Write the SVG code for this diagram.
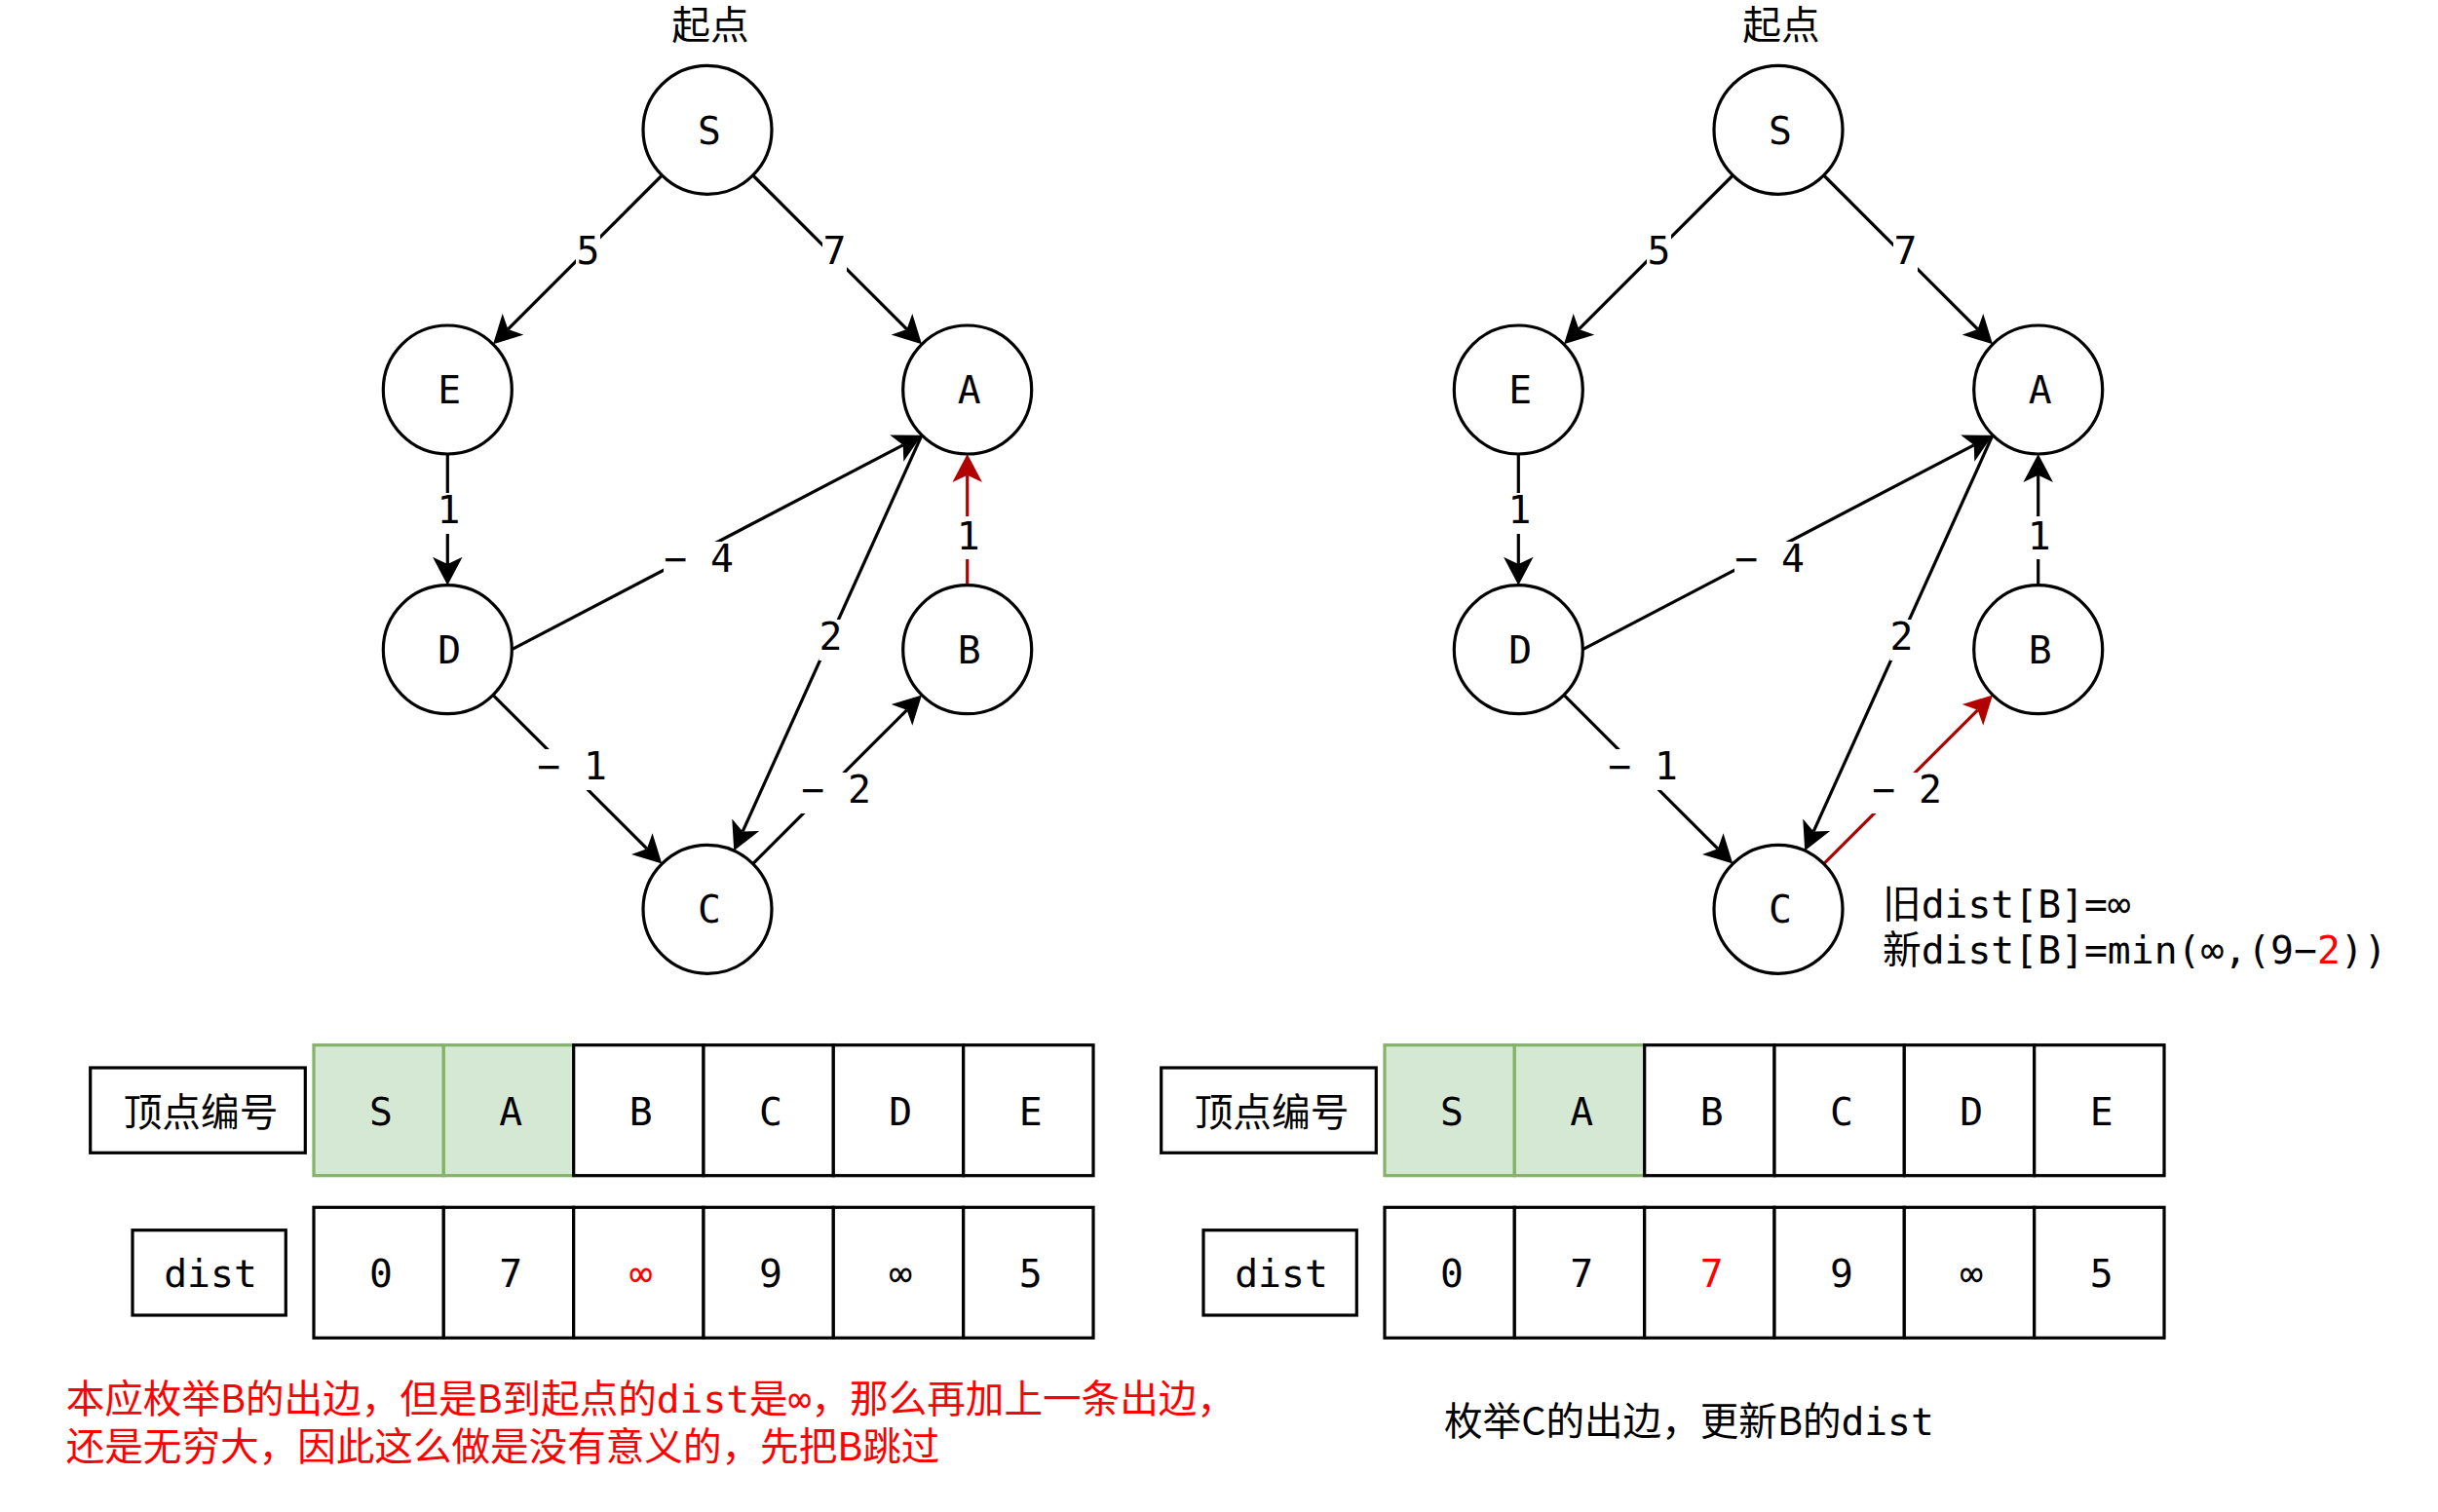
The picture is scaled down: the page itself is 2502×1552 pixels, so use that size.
<svg xmlns="http://www.w3.org/2000/svg" width="2502" height="1552" viewBox="0 0 2502 1552">
<defs>
<style>
.nd{fill:#fff;stroke:#000;stroke-width:3.2}
.t{font-family:"DejaVu Sans Mono","Noto Sans CJK SC",monospace;font-size:39.7px;text-anchor:middle;fill:#000}
.ts{font-family:"DejaVu Sans Mono","Noto Sans CJK SC",monospace;font-size:39.7px;fill:#000}
.cj{font-family:"Noto Sans CJK SC",sans-serif;font-size:39.6px;fill:#000}
.mono{font-family:"DejaVu Sans Mono",monospace}
.e{stroke:#000;stroke-width:3.2;fill:none;marker-end:url(#ab)}
.er{stroke:#b20000;stroke-width:3.2;fill:none;marker-end:url(#ar)}
.lb{fill:#fff;stroke:none}
.cw{fill:#fff;stroke:#000;stroke-width:3.2}
.cg{fill:#d5e8d4;stroke:#82b366;stroke-width:3.2}
.red{fill:#ff0000}
</style>
<marker id="ab" viewBox="0 -16 30 32" refX="7.25" refY="0" markerWidth="30" markerHeight="32" markerUnits="userSpaceOnUse" orient="auto"><path d="M0,-15.3 L29,0 L0,15.3 L7.25,0 Z" fill="#000"/></marker>
<marker id="ar" viewBox="0 -16 30 32" refX="7.25" refY="0" markerWidth="30" markerHeight="32" markerUnits="userSpaceOnUse" orient="auto"><path d="M0,-15.3 L29,0 L0,15.3 L7.25,0 Z" fill="#b20000"/></marker>
</defs>
<rect width="2502" height="1552" fill="#fff"/>

<!-- LEFT GRAPH -->
<g id="left-graph">
<text id="L-start" class="t" x="729" y="40">起点</text>
<g id="L-connectors">
<line class="e" x1="679.3" y1="180" x2="521.4" y2="337.9"/>
<line class="e" x1="772.7" y1="180" x2="930.6" y2="337.9"/>
<line class="e" x1="459.3" y1="466" x2="459.3" y2="579"/>
<line class="e" x1="525.3" y1="666.7" x2="926.7" y2="456.8"/>
<line class="e" x1="946" y1="446.7" x2="762.2" y2="853.4"/>
<line class="e" x1="506" y1="713.4" x2="663.9" y2="871.2"/>
<line class="e" x1="772.7" y1="886.6" x2="930.6" y2="728.8"/>
<line class="er" x1="992.7" y1="600.7" x2="992.7" y2="487.75"/>
<rect class="lb" x="591" y="240" width="25" height="42"/><text class="t" x="603.5" y="271">5</text>
<rect class="lb" x="844" y="240" width="25" height="42"/><text class="t" x="856.5" y="271">7</text>
<rect class="lb" x="448.3" y="506" width="24.5" height="42"/><text class="t" x="460.5" y="537">1</text>
<rect class="lb" x="681" y="556" width="72.5" height="42"/><text class="t" x="717" y="587">− 4</text>
<rect class="lb" x="840.5" y="636" width="24.5" height="42"/><text class="t" x="852.5" y="667">2</text>
<rect class="lb" x="551" y="769" width="72.5" height="42"/><text class="t" x="587" y="800">− 1</text>
<rect class="lb" x="822" y="793" width="72.5" height="42"/><text class="t" x="858" y="824">− 2</text>
<rect class="lb" x="981.5" y="530" width="24.5" height="44"/><text class="t" x="993.7" y="564">1</text>
</g>
<g id="L-S"><circle class="nd" cx="726" cy="133.3" r="66"/><text class="t" x="728" y="147.5">S</text></g>
<g id="L-E"><circle class="nd" cx="459.3" cy="400" r="66"/><text class="t" x="461.3" y="414">E</text></g>
<g id="L-A"><circle class="nd" cx="992.7" cy="400" r="66"/><text class="t" x="994.7" y="414">A</text></g>
<g id="L-D"><circle class="nd" cx="459.3" cy="666.7" r="66"/><text class="t" x="461.3" y="680.7">D</text></g>
<g id="L-B"><circle class="nd" cx="992.7" cy="666.7" r="66"/><text class="t" x="994.7" y="680.7">B</text></g>
<g id="L-C"><circle class="nd" cx="726" cy="933.3" r="66"/><text class="t" x="728" y="947.3">C</text></g>
</g>

<!-- RIGHT GRAPH -->
<g id="right-graph">
<text id="R-start" class="t" x="1828" y="40">起点</text>
<g id="R-connectors">
<line class="e" x1="1778.3" y1="180" x2="1620.4" y2="337.9"/>
<line class="e" x1="1871.7" y1="180" x2="2029.6" y2="337.9"/>
<line class="e" x1="1558.3" y1="466" x2="1558.3" y2="579"/>
<line class="e" x1="1624.3" y1="666.7" x2="2025.7" y2="456.8"/>
<line class="e" x1="2045" y1="446.7" x2="1861.2" y2="853.4"/>
<line class="e" x1="1605" y1="713.4" x2="1762.9" y2="871.2"/>
<line class="er" x1="1871.7" y1="886.6" x2="2029.6" y2="728.8"/>
<line class="e" x1="2091.7" y1="600.7" x2="2091.7" y2="487.75"/>
<rect class="lb" x="1690" y="240" width="25" height="42"/><text class="t" x="1702.5" y="271">5</text>
<rect class="lb" x="1943" y="240" width="25" height="42"/><text class="t" x="1955.5" y="271">7</text>
<rect class="lb" x="1547.3" y="506" width="24.5" height="42"/><text class="t" x="1559.5" y="537">1</text>
<rect class="lb" x="1780" y="556" width="72.5" height="42"/><text class="t" x="1816" y="587">− 4</text>
<rect class="lb" x="1939.5" y="636" width="24.5" height="42"/><text class="t" x="1951.5" y="667">2</text>
<rect class="lb" x="1650" y="769" width="72.5" height="42"/><text class="t" x="1686" y="800">− 1</text>
<rect class="lb" x="1921" y="793" width="72.5" height="42"/><text class="t" x="1957" y="824">− 2</text>
<rect class="lb" x="2080.5" y="530" width="24.5" height="44"/><text class="t" x="2092.7" y="564">1</text>
</g>
<g id="R-S"><circle class="nd" cx="1825" cy="133.3" r="66"/><text class="t" x="1827" y="147.5">S</text></g>
<g id="R-E"><circle class="nd" cx="1558.3" cy="400" r="66"/><text class="t" x="1560.3" y="414">E</text></g>
<g id="R-A"><circle class="nd" cx="2091.7" cy="400" r="66"/><text class="t" x="2093.7" y="414">A</text></g>
<g id="R-D"><circle class="nd" cx="1558.3" cy="666.7" r="66"/><text class="t" x="1560.3" y="680.7">D</text></g>
<g id="R-B"><circle class="nd" cx="2091.7" cy="666.7" r="66"/><text class="t" x="2093.7" y="680.7">B</text></g>
<g id="R-C"><circle class="nd" cx="1825" cy="933.3" r="66"/><text class="t" x="1827" y="947.3">C</text></g>
<g id="R-note">
<text class="ts" x="1932" y="942">旧dist[B]=∞<tspan x="1932" dy="47">新dist[B]=min(∞,(9−</tspan><tspan class="red">2</tspan><tspan>))</tspan></text>
</g>
</g>

<!-- LEFT TABLE -->
<g id="L-table">
<g id="L-h1"><rect class="cw" x="92.7" y="1096" width="220.6" height="87.3"/><text class="t" x="206" y="1155.5">顶点编号</text></g>
<g id="L-h2"><rect class="cw" x="136" y="1262.7" width="157.3" height="87.3"/><text class="t" x="216" y="1321">dist</text></g>
<rect class="cg" x="322" y="1072.7" width="133.3" height="134"/>
<rect class="cg" x="455.3" y="1072.7" width="133.4" height="134"/>
<rect class="cw" x="588.7" y="1072.7" width="133.3" height="134"/>
<rect class="cw" x="722" y="1072.7" width="133.3" height="134"/>
<rect class="cw" x="855.3" y="1072.7" width="133.4" height="134"/>
<rect class="cw" x="988.7" y="1072.7" width="133.3" height="134"/>
<text class="t" x="391" y="1154.5">S</text>
<text class="t" x="524.3" y="1154.5">A</text>
<text class="t" x="657.6" y="1154.5">B</text>
<text class="t" x="791" y="1154.5">C</text>
<text class="t" x="924.3" y="1154.5">D</text>
<text class="t" x="1057.6" y="1154.5">E</text>
<rect class="cw" x="322" y="1239.3" width="133.3" height="134"/>
<rect class="cw" x="455.3" y="1239.3" width="133.4" height="134"/>
<rect class="cw" x="588.7" y="1239.3" width="133.3" height="134"/>
<rect class="cw" x="722" y="1239.3" width="133.3" height="134"/>
<rect class="cw" x="855.3" y="1239.3" width="133.4" height="134"/>
<rect class="cw" x="988.7" y="1239.3" width="133.3" height="134"/>
<text class="t" x="391" y="1321">0</text>
<text class="t" x="524.3" y="1321">7</text>
<text class="t red" x="657.6" y="1321">∞</text>
<text class="t" x="791" y="1321">9</text>
<text class="t" x="924.3" y="1321">∞</text>
<text class="t" x="1057.6" y="1321">5</text>
</g>

<!-- RIGHT TABLE -->
<g id="R-table">
<g id="R-h1"><rect class="cw" x="1191.7" y="1096" width="220.6" height="87.3"/><text class="t" x="1305" y="1155.5">顶点编号</text></g>
<g id="R-h2"><rect class="cw" x="1235" y="1262.7" width="157.3" height="87.3"/><text class="t" x="1315" y="1321">dist</text></g>
<rect class="cg" x="1421" y="1072.7" width="133.3" height="134"/>
<rect class="cg" x="1554.3" y="1072.7" width="133.4" height="134"/>
<rect class="cw" x="1687.7" y="1072.7" width="133.3" height="134"/>
<rect class="cw" x="1821" y="1072.7" width="133.3" height="134"/>
<rect class="cw" x="1954.3" y="1072.7" width="133.4" height="134"/>
<rect class="cw" x="2087.7" y="1072.7" width="133.3" height="134"/>
<text class="t" x="1490" y="1154.5">S</text>
<text class="t" x="1623.3" y="1154.5">A</text>
<text class="t" x="1756.6" y="1154.5">B</text>
<text class="t" x="1890" y="1154.5">C</text>
<text class="t" x="2023.3" y="1154.5">D</text>
<text class="t" x="2156.6" y="1154.5">E</text>
<rect class="cw" x="1421" y="1239.3" width="133.3" height="134"/>
<rect class="cw" x="1554.3" y="1239.3" width="133.4" height="134"/>
<rect class="cw" x="1687.7" y="1239.3" width="133.3" height="134"/>
<rect class="cw" x="1821" y="1239.3" width="133.3" height="134"/>
<rect class="cw" x="1954.3" y="1239.3" width="133.4" height="134"/>
<rect class="cw" x="2087.7" y="1239.3" width="133.3" height="134"/>
<text class="t" x="1490" y="1321">0</text>
<text class="t" x="1623.3" y="1321">7</text>
<text class="t red" x="1756.6" y="1321">7</text>
<text class="t" x="1890" y="1321">9</text>
<text class="t" x="2023.3" y="1321">∞</text>
<text class="t" x="2156.6" y="1321">5</text>
</g>

<!-- CAPTIONS -->
<g id="L-caption">
<text class="cj red" x="67.7" y="1450">本应枚举B的出边，但是B到起点的<tspan class="mono">dist</tspan>是<tspan class="mono">∞</tspan>，那么再加上一条出边，<tspan x="67.7" dy="49">还是无穷大，因此这么做是没有意义的，先把B跳过</tspan></text>
</g>
<g id="R-caption">
<text class="cj" x="1482" y="1473">枚举C的出边，更新B的<tspan class="mono">dist</tspan></text>
</g>
</svg>
